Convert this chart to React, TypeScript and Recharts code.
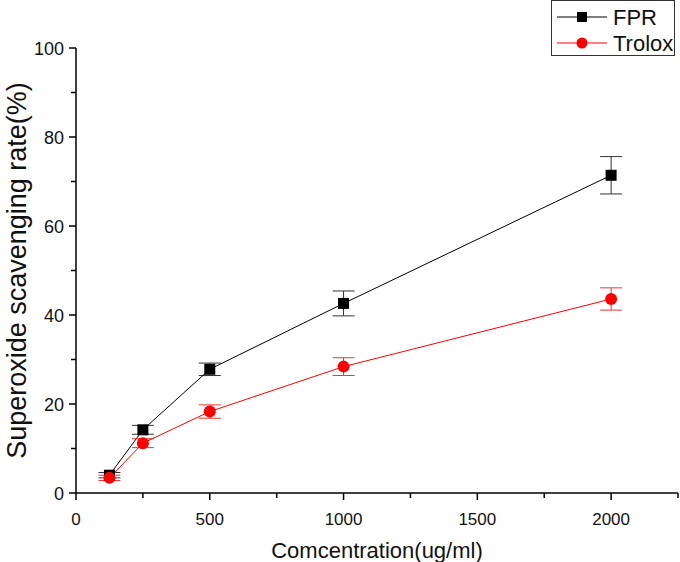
import React from "react";
import {
  LineChart,
  Line,
  XAxis,
  YAxis,
  ErrorBar,
  Label,
} from "recharts";

// concentrations (ug/ml)
const concentrations = [125, 250, 500, 1000, 2000];
// scavenging rate (%)
const fpr = [4.0, 14.2, 27.8, 42.6, 71.4];
const fprErr = [0.6, 1.0, 1.4, 2.8, 4.2];
const trolox = [3.4, 11.2, 18.3, 28.4, 43.6];
const troloxErr = [0.6, 1.0, 1.5, 2.0, 2.5];

const xTicks = [0, 250, 500, 750, 1000, 1250, 1500, 1750, 2000, 2250];
const yTicks = [0, 10, 20, 30, 40, 50, 60, 70, 80, 90, 100];

const data = concentrations.map((c, i) => ({
  conc: c,
  FPR: fpr[i],
  fprErr: fprErr[i],
  Trolox: trolox[i],
  troloxErr: troloxErr[i],
}));

const FONT = '"Liberation Sans", Arial, sans-serif';

const XTick = (props: any) => {
  const { x, y, payload } = props;
  const major = payload.value % 500 === 0;
  return (
    <g>
      <line x1={x} x2={x} y1={y} y2={y + (major ? 7 : 5)} stroke="#000" strokeWidth={1.5} />
      {major && (
        <text x={x} y={y + 32} textAnchor="middle" fontSize={17} fill="#111" fontFamily={FONT}>
          {payload.value}
        </text>
      )}
    </g>
  );
};

const YTick = (props: any) => {
  const { x, y, payload } = props;
  const major = payload.value % 20 === 0;
  return (
    <g>
      <line x1={x - (major ? 7 : 5)} x2={x} y1={y} y2={y} stroke="#000" strokeWidth={1.5} />
      {major && (
        <text x={x - 12} y={y + 6.5} textAnchor="end" fontSize={18} fill="#111" fontFamily={FONT}>
          {payload.value}
        </text>
      )}
    </g>
  );
};

const SquareDot = (props: any) => {
  const { cx, cy, index } = props;
  return <rect key={`sq-${index}`} x={cx - 5.5} y={cy - 5.5} width={11} height={11} fill="#000" />;
};

const CircleDot = (props: any) => {
  const { cx, cy, index } = props;
  return <circle key={`ci-${index}`} cx={cx} cy={cy} r={6} fill="#ff0000" />;
};

const LegendBox = () => (
  <div
    style={{
      position: "absolute",
      left: 551,
      top: 0,
      width: 122,
      height: 54,
      border: "1.5px solid #333",
      background: "#fff",
    }}
  >
    <svg width={122} height={54} style={{ position: "absolute", left: 0, top: 0 }}>
      <line x1={5} x2={55} y1={16} y2={16} stroke="#000" strokeWidth={1} />
      <rect x={25} y={11} width={10} height={10} fill="#000" />
      <text x={61} y={24} fontSize={22} fontFamily={FONT} fill="#111">FPR</text>
      <line x1={5} x2={55} y1={42} y2={42} stroke="#ff0000" strokeWidth={1} />
      <circle cx={30} cy={42} r={5.5} fill="#ff0000" />
      <text x={61} y={50} fontSize={22} fontFamily={FONT} fill="#111">Trolox</text>
    </svg>
  </div>
);

export default function App() {
  return (
    <div style={{ position: "absolute", left: 0, top: 0, width: 680, height: 562, background: "#fff" }}>
      <LineChart
        width={680}
        height={562}
        data={data}
        margin={{ top: 48, right: 2, bottom: 0, left: 0 }}
        style={{ fontFamily: FONT }}
      >
        <XAxis
          dataKey="conc"
          type="number"
          domain={[0, 2250]}
          ticks={xTicks}
          interval={0}
          height={69}
          tickSize={0}
          tickMargin={0}
          tickLine={false}
          tick={<XTick />}
          axisLine={{ stroke: "#000", strokeWidth: 1.5 }}
        >
          <Label
            value="Comcentration(ug/ml)"
            position="insideBottom"
            offset={4}
            style={{ fontSize: 22, fill: "#111", fontFamily: FONT }}
          />
        </XAxis>
        <YAxis
          type="number"
          domain={[0, 100]}
          ticks={yTicks}
          interval={0}
          width={76}
          tickSize={0}
          tickMargin={0}
          tickLine={false}
          tick={<YTick />}
          axisLine={{ stroke: "#000", strokeWidth: 1.5 }}
        >
          <Label
            value="Superoxide scavenging rate(%)"
            angle={-90}
            position="insideLeft"
            offset={16}
            style={{ fontSize: 27, fill: "#111", fontFamily: FONT, textAnchor: "middle" }}
          />
        </YAxis>
        <Line
          dataKey="FPR"
          stroke="#000"
          strokeWidth={1}
          dot={<SquareDot />}
          activeDot={false}
          isAnimationActive={false}
        >
          <ErrorBar dataKey="fprErr" width={11} stroke="#333" strokeWidth={1} isAnimationActive={false} />
        </Line>
        <Line
          dataKey="Trolox"
          stroke="#ff0000"
          strokeWidth={1}
          dot={<CircleDot />}
          activeDot={false}
          isAnimationActive={false}
        >
          <ErrorBar dataKey="troloxErr" width={11} stroke="#e33" strokeWidth={1} isAnimationActive={false} />
        </Line>
      </LineChart>
      <LegendBox />
    </div>
  );
}
